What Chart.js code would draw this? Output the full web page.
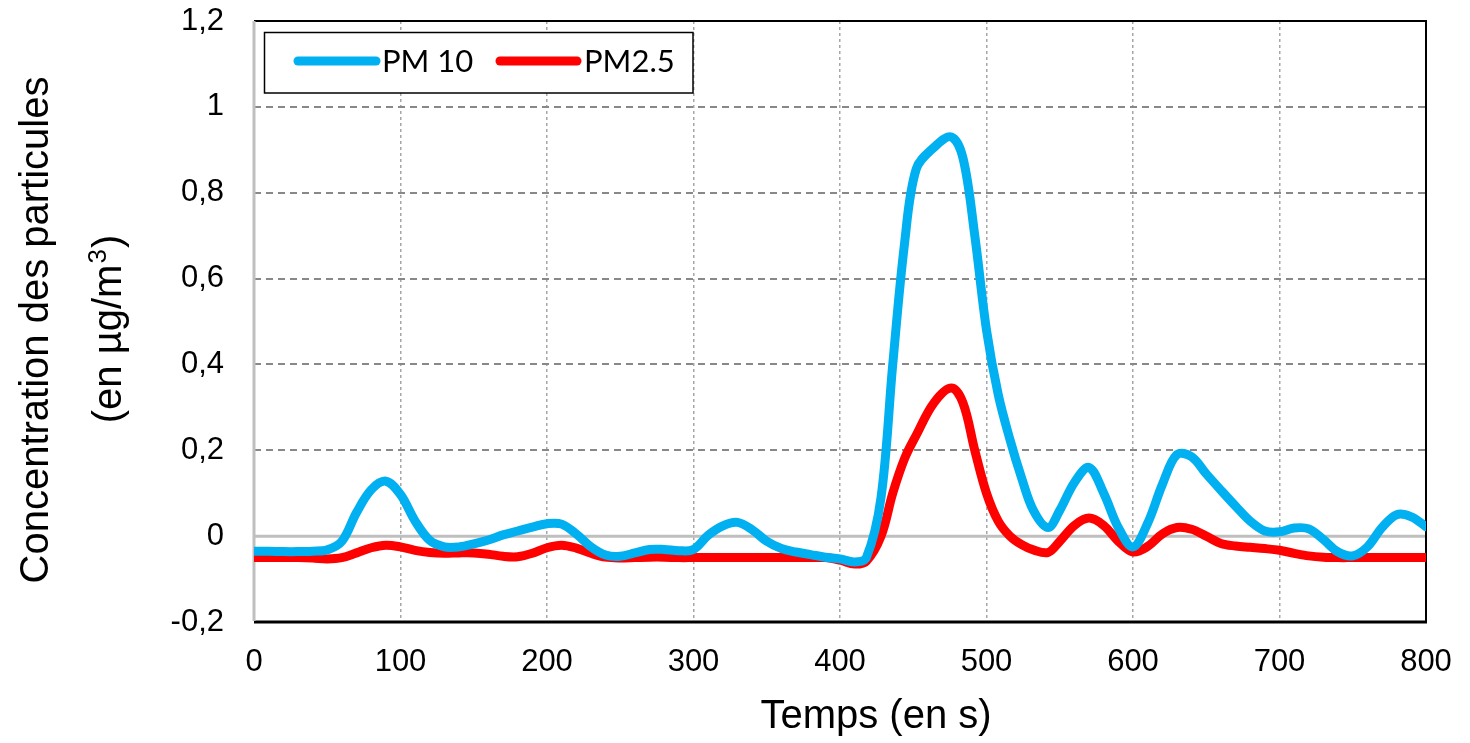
<!DOCTYPE html>
<html>
<head>
<meta charset="utf-8">
<script src="https://cdn.jsdelivr.net/npm/chart.js@4.4.1/dist/chart.umd.min.js"></script>
<style>
html,body{margin:0;padding:0;background:#fff;}
#wrap{width:1470px;height:743px;position:relative;}
</style>
</head>
<body>
<div id="wrap"><canvas id="c" width="1470" height="743"></canvas></div>
<script>
// ---- data ----
const times = [0,10,20,30,40,50,60,70,80,90,100,110,120,130,140,150,160,170,180,190,200,
  210,220,230,240,250,260,270,280,290,300,310,320,330,340,350,360,370,380,390,400,410,
  418,428,436,444,452,464,476,484,492,500,508,516,524,532,542,
  550,560,570,580,590,600,610,620,630,640,650,660,670,680,690,700,710,720,730,740,750,760,770,780,790,800];
const pm10 = [-0.035,-0.035,-0.036,-0.036,-0.035,-0.032,-0.012,0.055,0.108,0.128,0.097,
  0.035,-0.010,-0.025,-0.025,-0.018,-0.009,0.003,0.012,0.021,0.029,
  0.028,0.005,-0.025,-0.044,-0.047,-0.039,-0.031,-0.031,-0.034,-0.031,
  0.002,0.024,0.032,0.015,-0.012,-0.029,-0.037,-0.043,-0.049,-0.053,-0.060,
  -0.050,0.090,0.400,0.680,0.855,0.905,0.930,0.880,0.700,0.480,0.330,0.225,0.135,0.060,0.020,
  0.060,0.125,0.160,0.100,0.020,-0.025,0.030,0.120,0.190,0.185,0.145,0.107,0.070,0.035,0.012,
  0.010,0.019,0.017,-0.008,-0.037,-0.046,-0.025,0.020,0.050,0.045,0.022];
const pm25 = [-0.050,-0.050,-0.050,-0.050,-0.051,-0.053,-0.050,-0.039,-0.027,-0.021,-0.025,
  -0.033,-0.038,-0.040,-0.039,-0.039,-0.042,-0.047,-0.048,-0.040,-0.027,
  -0.021,-0.028,-0.040,-0.049,-0.051,-0.050,-0.049,-0.049,-0.050,-0.050,
  -0.050,-0.050,-0.050,-0.050,-0.050,-0.050,-0.050,-0.050,-0.050,-0.056,-0.065,
  -0.058,0.000,0.100,0.180,0.235,0.310,0.345,0.310,0.200,0.100,0.035,0.000,-0.020,-0.032,-0.038,
  -0.012,0.025,0.042,0.025,-0.012,-0.037,-0.024,0.005,0.020,0.016,0.000,-0.017,-0.023,-0.026,-0.029,
  -0.033,-0.040,-0.046,-0.049,-0.050,-0.050,-0.050,-0.050,-0.050,-0.050,-0.050];
const seriesNames = ['PM 10', 'PM2.5'];
const yTickLabels = ['-0,2','0','0,2','0,4','0,6','0,8','1','1,2'];
const xTickLabels = ['0','100','200','300','400','500','600','700','800'];
const xTitle = 'Temps (en s)';
const yTitle1 = 'Concentration des particules';
const yTitle2a = '(en \u00b5g/m', yTitle2sup = '3', yTitle2b = ')';

const BLUE = '#00B0F0', RED = '#FF0000';
const FONT = '"Liberation Sans", Arial, sans-serif';

const framePlugin = {
  id: 'frame',
  beforeDatasetsDraw(chart) {
    const {ctx, chartArea: a, scales} = chart;
    ctx.save();
    const y0 = scales.y.getPixelForValue(0);
    ctx.strokeStyle = '#bfbfbf';
    ctx.lineWidth = 3;
    ctx.beginPath(); ctx.moveTo(a.left, y0); ctx.lineTo(a.right, y0); ctx.stroke();
    ctx.strokeStyle = '#000';
    ctx.lineWidth = 2;
    ctx.beginPath();
    ctx.moveTo(a.left, a.top); ctx.lineTo(a.right, a.top); ctx.lineTo(a.right, a.bottom);
    ctx.stroke();
    ctx.lineWidth = 3;
    ctx.beginPath(); ctx.moveTo(a.left, a.bottom); ctx.lineTo(a.right + 1, a.bottom); ctx.stroke();
    ctx.strokeStyle = '#bfbfbf';
    ctx.lineWidth = 3;
    ctx.beginPath(); ctx.moveTo(a.left, a.top); ctx.lineTo(a.left, a.bottom - 1); ctx.stroke();
    ctx.restore();
  },
  afterDraw(chart) {
    const {ctx} = chart;
    ctx.save();
    // legend
    ctx.fillStyle = '#fff';
    ctx.fillRect(264, 32, 429, 61);
    ctx.strokeStyle = '#000';
    ctx.lineWidth = 1.5;
    ctx.strokeRect(264.5, 32.5, 428.5, 60.5);
    ctx.lineCap = 'round';
    ctx.lineWidth = 9;
    const entries = [[BLUE, 298, 376, 382], [RED, 500, 577, 584]];
    ctx.font = '31px Lato, "Open Sans", sans-serif';
    ctx.textBaseline = 'alphabetic';
    ctx.textAlign = 'left';
    entries.forEach((e, i) => {
      ctx.strokeStyle = e[0];
      ctx.beginPath(); ctx.moveTo(e[1], 61); ctx.lineTo(e[2], 61); ctx.stroke();
      ctx.fillStyle = '#000';
      ctx.fillText(seriesNames[i], e[3], 72);
    });
    // x title
    ctx.fillStyle = '#000';
    ctx.font = '40px ' + FONT;
    ctx.textAlign = 'center';
    ctx.textBaseline = 'middle';
    ctx.fillText(xTitle, 876, 717);
    // y title
    const yc = 330;
    ctx.save();
    ctx.translate(37, yc);
    ctx.rotate(-Math.PI / 2);
    ctx.font = '40px ' + FONT;
    ctx.textAlign = 'center';
    ctx.textBaseline = 'middle';
    ctx.fillText(yTitle1, 0, 0);
    ctx.restore();
    ctx.save();
    ctx.translate(110, yc);
    ctx.rotate(-Math.PI / 2);
    ctx.textBaseline = 'middle';
    ctx.textAlign = 'left';
    ctx.font = '40px ' + FONT;
    const w1 = ctx.measureText(yTitle2a).width;
    const w3 = ctx.measureText(yTitle2b).width;
    ctx.font = '26px ' + FONT;
    const w2 = ctx.measureText(yTitle2sup).width;
    const start = -(w1 + w2 + w3) / 2;
    ctx.font = '40px ' + FONT;
    ctx.fillText(yTitle2a, start, 0);
    ctx.font = '26px ' + FONT;
    ctx.fillText(yTitle2sup, start + w1 + 1, -11);
    ctx.font = '40px ' + FONT;
    ctx.fillText(yTitle2b, start + w1 + w2 + 2, 0);
    ctx.restore();
    ctx.restore();
  }
};

new Chart(document.getElementById('c'), {
  type: 'line',
  data: {
    datasets: [
      { label: seriesNames[0], data: times.map((t, i) => ({x: t, y: pm10[i]})),
        borderColor: BLUE, borderWidth: 9, pointRadius: 0, tension: 0.35,
        borderCapStyle: 'round', borderJoinStyle: 'round', clip: 0, fill: false },
      { label: seriesNames[1], data: times.map((t, i) => ({x: t, y: pm25[i]})),
        borderColor: RED, borderWidth: 9, pointRadius: 0, tension: 0.35,
        borderCapStyle: 'round', borderJoinStyle: 'round', clip: 0, fill: false }
    ]
  },
  options: {
    responsive: false,
    animation: false,
    layout: { padding: { top: 21, right: 44, left: 0, bottom: 0 } },
    plugins: { legend: { display: false }, tooltip: { enabled: false } },
    scales: {
      x: {
        type: 'linear', min: 0, max: 800,
        afterFit(s) { s.height = 121; s.paddingLeft = 0; s.paddingRight = 0; s.paddingTop = 0; s.paddingBottom = 0; },
        ticks: { stepSize: 100, color: '#000', font: { family: FONT, size: 31 }, padding: 22,
                 maxRotation: 0, callback: (v, i) => xTickLabels[i] },
        grid: { color: (c) => (c.tick && (c.tick.value === 0 || c.tick.value === 800)) ? 'rgba(0,0,0,0)' : '#a6a6a6',
                lineWidth: 1.5, drawTicks: false },
        border: { display: false, dash: [3, 3] }
      },
      y: {
        min: -0.2, max: 1.2,
        afterFit(s) { s.width = 254; s.paddingLeft = 0; s.paddingRight = 0; s.paddingTop = 0; s.paddingBottom = 0; },
        ticks: { stepSize: 0.2, color: '#000', font: { family: FONT, size: 31 }, padding: 30,
                 callback: (v, i) => yTickLabels[i] },
        grid: { color: (c) => (c.index === 1 || c.index === 0 || c.index === 7) ? 'rgba(0,0,0,0)' : '#888888',
                lineWidth: 2, drawTicks: false },
        border: { display: false, dash: [7, 5] }
      }
    }
  },
  plugins: [framePlugin]
});
</script>
</body>
</html>
